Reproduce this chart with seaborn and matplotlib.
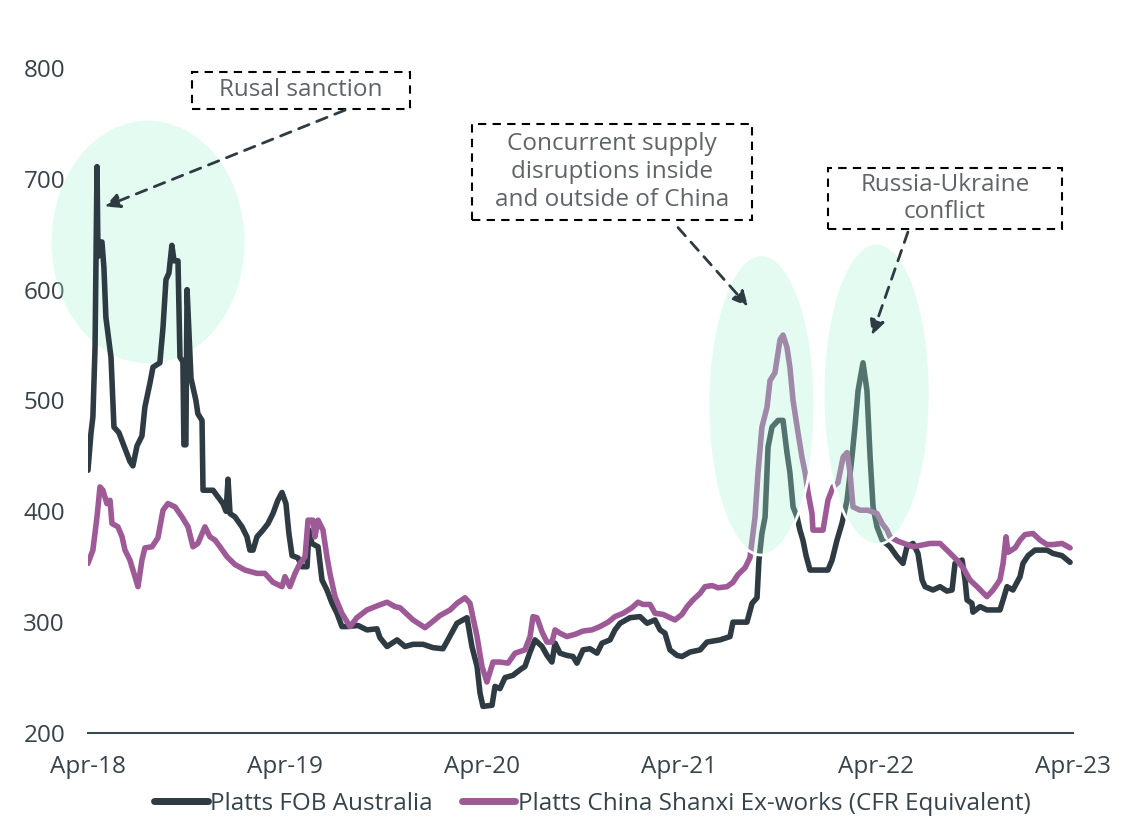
import numpy as np
import pandas as pd
import matplotlib
matplotlib.use("Agg")
import matplotlib.pyplot as plt
from matplotlib.patches import Ellipse, Rectangle
import seaborn as sns

# ---- data: weekly price assessments, time in decimal years ----
fob_t = [2018.250, 2018.265, 2018.275, 2018.286, 2018.296, 2018.301, 2018.306, 2018.321, 2018.331, 2018.341,
         2018.367, 2018.382, 2018.407, 2018.433, 2018.463, 2018.478, 2018.499, 2018.524, 2018.539, 2018.565,
         2018.580, 2018.615, 2018.631, 2018.646, 2018.661, 2018.676, 2018.687, 2018.707, 2018.717, 2018.732,
         2018.737, 2018.747, 2018.753, 2018.763, 2018.773, 2018.798, 2018.808, 2018.829, 2018.834, 2018.885,
         2018.910, 2018.935, 2018.951, 2018.961, 2018.971, 2018.996, 2019.032, 2019.057, 2019.072, 2019.088,
         2019.108, 2019.138, 2019.164, 2019.189, 2019.214, 2019.235, 2019.255, 2019.270, 2019.286, 2019.316,
         2019.336, 2019.362, 2019.372, 2019.387, 2019.418, 2019.438, 2019.463, 2019.489, 2019.514, 2019.539,
         2019.565, 2019.621, 2019.666, 2019.717, 2019.732, 2019.768, 2019.819, 2019.859, 2019.900, 2019.951,
         2020.001, 2020.052, 2020.077, 2020.123, 2020.174, 2020.199, 2020.225, 2020.240, 2020.255, 2020.301,
         2020.316, 2020.341, 2020.367, 2020.407, 2020.443, 2020.468, 2020.494, 2020.519, 2020.555, 2020.580,
         2020.605, 2020.621, 2020.646, 2020.681, 2020.712, 2020.732, 2020.763, 2020.798, 2020.834, 2020.859,
         2020.900, 2020.925, 2020.951, 2021.001, 2021.052, 2021.088, 2021.128, 2021.154, 2021.179, 2021.204,
         2021.240, 2021.265, 2021.306, 2021.357, 2021.392, 2021.458, 2021.509, 2021.524, 2021.595, 2021.621,
         2021.646, 2021.656, 2021.671, 2021.687, 2021.702, 2021.722, 2021.753, 2021.778, 2021.798, 2021.813,
         2021.829, 2021.849, 2021.864, 2021.879, 2021.895, 2021.915, 2022.006, 2022.027, 2022.052, 2022.077,
         2022.103, 2022.128, 2022.143, 2022.159, 2022.184, 2022.204, 2022.220, 2022.235, 2022.255, 2022.281,
         2022.321, 2022.357, 2022.387, 2022.407, 2022.438, 2022.463, 2022.484, 2022.499, 2022.539, 2022.575,
         2022.610, 2022.636, 2022.651, 2022.687, 2022.702, 2022.712, 2022.737, 2022.742, 2022.778, 2022.813,
         2022.879, 2022.895, 2022.915, 2022.945, 2022.981, 2022.996, 2023.022, 2023.057, 2023.118, 2023.148,
         2023.194, 2023.235]
fob_v = [437, 470, 485, 548, 711, 630, 643, 643, 620, 575,
         539, 476, 471, 459, 445, 441, 459, 468, 494, 516,
         530, 534, 566, 609, 615, 640, 626, 626, 539, 535,
         460, 460, 600, 560, 520, 500, 488, 482, 419, 419,
         413, 407, 400, 429, 398, 395, 386, 377, 365, 365,
         377, 383, 389, 398, 410, 417, 407, 380, 360, 358,
         350, 350, 383, 371, 368, 338, 329, 317, 308, 296,
         296, 297, 293, 294, 286, 278, 284, 278, 280, 280,
         277, 276, 284, 299, 304, 278, 260, 236, 224, 225,
         242, 240, 250, 252, 257, 260, 273, 284, 278, 270,
         264, 281, 272, 270, 269, 263, 275, 276, 272, 281,
         284, 293, 299, 304, 305, 299, 302, 293, 290, 275,
         270, 269, 273, 275, 282, 284, 287, 300, 300, 317,
         322, 356, 380, 395, 458, 476, 482, 482, 453, 435,
         404, 395, 383, 374, 360, 347, 347, 356, 374, 389,
         410, 449, 476, 509, 534, 509, 449, 404, 386, 374,
         368, 359, 353, 368, 371, 362, 338, 332, 329, 332,
         328, 329, 353, 356, 338, 320, 317, 309, 314, 311,
         311, 320, 332, 329, 341, 353, 360, 365, 365, 362,
         360, 354]

shanxi_t = [2018.250, 2018.275, 2018.296, 2018.311, 2018.326, 2018.346, 2018.362, 2018.372, 2018.402, 2018.423,
            2018.438, 2018.463, 2018.504, 2018.524, 2018.539, 2018.575, 2018.605, 2018.631, 2018.656, 2018.692,
            2018.727, 2018.758, 2018.783, 2018.808, 2018.844, 2018.869, 2018.895, 2018.920, 2018.956, 2018.996,
            2019.047, 2019.108, 2019.148, 2019.189, 2019.235, 2019.250, 2019.275, 2019.301, 2019.326, 2019.352,
            2019.367, 2019.392, 2019.402, 2019.418, 2019.443, 2019.463, 2019.478, 2019.504, 2019.539, 2019.580,
            2019.615, 2019.666, 2019.722, 2019.768, 2019.808, 2019.834, 2019.900, 2019.961, 2019.996, 2020.037,
            2020.088, 2020.123, 2020.164, 2020.189, 2020.225, 2020.250, 2020.275, 2020.306, 2020.341, 2020.382,
            2020.418, 2020.468, 2020.494, 2020.509, 2020.529, 2020.555, 2020.580, 2020.605, 2020.621, 2020.646,
            2020.681, 2020.722, 2020.763, 2020.808, 2020.849, 2020.890, 2020.925, 2020.966, 2021.011, 2021.042,
            2021.067, 2021.103, 2021.128, 2021.169, 2021.204, 2021.230, 2021.265, 2021.291, 2021.321, 2021.357,
            2021.382, 2021.418, 2021.448, 2021.494, 2021.524, 2021.550, 2021.585, 2021.610, 2021.636, 2021.651,
            2021.671, 2021.697, 2021.712, 2021.737, 2021.763, 2021.778, 2021.798, 2021.813, 2021.829, 2021.854,
            2021.874, 2021.890, 2021.905, 2021.925, 2021.930, 2021.981, 2022.006, 2022.032, 2022.057, 2022.083,
            2022.103, 2022.118, 2022.133, 2022.169, 2022.209, 2022.255, 2022.281, 2022.306, 2022.321, 2022.362,
            2022.438, 2022.524, 2022.575, 2022.610, 2022.661, 2022.692, 2022.727, 2022.763, 2022.813, 2022.844,
            2022.879, 2022.895, 2022.910, 2022.920, 2022.956, 2022.981, 2023.006, 2023.047, 2023.083, 2023.118,
            2023.148, 2023.194, 2023.235]
shanxi_v = [353, 365, 395, 422, 419, 407, 410, 389, 386, 377,
            365, 356, 332, 356, 367, 368, 376, 401, 407, 404,
            395, 386, 368, 371, 386, 377, 374, 368, 359, 352,
            347, 344, 344, 336, 332, 341, 332, 344, 353, 359,
            392, 392, 377, 392, 383, 359, 344, 323, 308, 296,
            304, 311, 315, 318, 314, 313, 302, 295, 300, 306,
            311, 317, 322, 317, 287, 260, 246, 264, 264, 263,
            272, 275, 287, 305, 304, 291, 282, 282, 293, 290,
            287, 289, 292, 293, 296, 300, 305, 308, 313, 318,
            316, 316, 308, 307, 304, 302, 307, 314, 320, 326,
            332, 333, 331, 332, 336, 343, 349, 358, 395, 435,
            476, 494, 518, 525, 555, 559, 548, 530, 500, 471,
            449, 435, 417, 398, 383, 383, 410, 422, 426, 449,
            453, 435, 404, 401, 401, 398, 389, 383, 377, 373,
            368, 371, 371, 365, 356, 349, 338, 332, 323, 329,
            338, 353, 377, 363, 367, 374, 379, 380, 374, 370,
            370, 371, 367]

series_names = ["Platts FOB Australia", "Platts China Shanxi Ex-works (CFR Equivalent)"]
tick_years = [2018.25, 2019.25, 2020.25, 2021.25, 2022.25, 2023.25]
tick_labels = ["Apr-18", "Apr-19", "Apr-20", "Apr-21", "Apr-22", "Apr-23"]
y_ticks = [200, 300, 400, 500, 600, 700, 800]

DARK = "#2f3b42"
PURPLE = "#9e5a97"
TEXT = "#37434a"
NOTE = "#5f6467"
FS = 17.5

sns.set_theme(style="white")
plt.rcParams["font.family"] = ["Open Sans", "DejaVu Sans"]

df = pd.concat([
    pd.DataFrame({"t": fob_t, "price": fob_v, "series": series_names[0]}),
    pd.DataFrame({"t": shanxi_t, "price": shanxi_v, "series": series_names[1]}),
])

fig = plt.figure(figsize=(11.32, 8.22), dpi=100)
ax = fig.add_axes([0.0777, 0.1083, 0.8702, 0.809])

sns.lineplot(data=df, x="t", y="price", hue="series", hue_order=series_names,
             palette=[DARK, PURPLE], estimator=None, linewidth=4.0, ax=ax,
             solid_joinstyle="round", solid_capstyle="round", zorder=3)

ax.set_xlim(tick_years[0], tick_years[-1])
ax.set_ylim(200, 800)
ax.set_xticks(tick_years)
ax.set_xticklabels(tick_labels)
ax.set_yticks(y_ticks)
ax.set_xlabel("")
ax.set_ylabel("")
ax.tick_params(axis="both", length=0, labelsize=FS, colors=TEXT)
ax.tick_params(axis="x", pad=16)
ax.tick_params(axis="y", pad=16.5)
for side in ["top", "right", "left"]:
    ax.spines[side].set_visible(False)
ax.spines["bottom"].set_color("#3d4950")
ax.spines["bottom"].set_linewidth(1.5)

# highlight ellipses: the first sits behind the lines, the later two wash over them
mint = (0.65, 0.96, 0.83, 0.3)
ax.add_patch(Ellipse((2018.555, 643), 0.98, 219, facecolor=mint, edgecolor="none",
                     zorder=1, clip_on=False))
for cx, cy, w, h in [(2021.669, 496, 0.543, 271), (2022.253, 506, 0.543, 272)]:
    ax.add_patch(Ellipse((cx, cy), w, h, facecolor=mint, edgecolor="white",
                         linewidth=2, zorder=4, clip_on=False))

# dashed annotation boxes
boxes = [
    ("Rusal sanction", 2018.778, 2019.885, 763.0, 796.4),
    ("Concurrent supply\ndisruptions inside\nand outside of China", 2020.199, 2021.621, 662.9, 749.5),
    ("Russia-Ukraine\nconflict", 2022.006, 2023.194, 654.8, 709.8),
]
for label, x0, x1, y0, y1 in boxes:
    ax.add_patch(Rectangle((x0, y0), x1 - x0, y1 - y0, fill=False, edgecolor="black",
                           linewidth=1.5, linestyle=(0, (4, 3)), zorder=6, clip_on=False))
    ax.text((x0 + x1) / 2, (y0 + y1) / 2, label, ha="center", va="center", fontsize=FS,
            color=NOTE, linespacing=1.2, zorder=7, clip_on=False)

arrows = [((2019.555, 762), (2018.336, 675)),
          ((2021.245, 656), (2021.600, 585)),
          ((2022.412, 652), (2022.230, 559))]
for tail, head in arrows:
    ax.annotate("", xy=head, xytext=tail, zorder=6,
                arrowprops=dict(arrowstyle="-|>", color=DARK, lw=2, linestyle=(0, (4, 3)),
                                mutation_scale=22, shrinkA=0, shrinkB=0))

handles, labels = ax.get_legend_handles_labels()
for hnd in handles:
    hnd.set_linewidth(5)
ax.legend(handles, labels, loc="upper center", bbox_to_anchor=(0.512, -0.063), ncol=2,
          frameon=False, fontsize=FS, handlelength=2.2, handletextpad=0.1,
          columnspacing=1.2, labelcolor=TEXT, borderpad=0.2)

fig.savefig("out.png", dpi=100, facecolor="white")
